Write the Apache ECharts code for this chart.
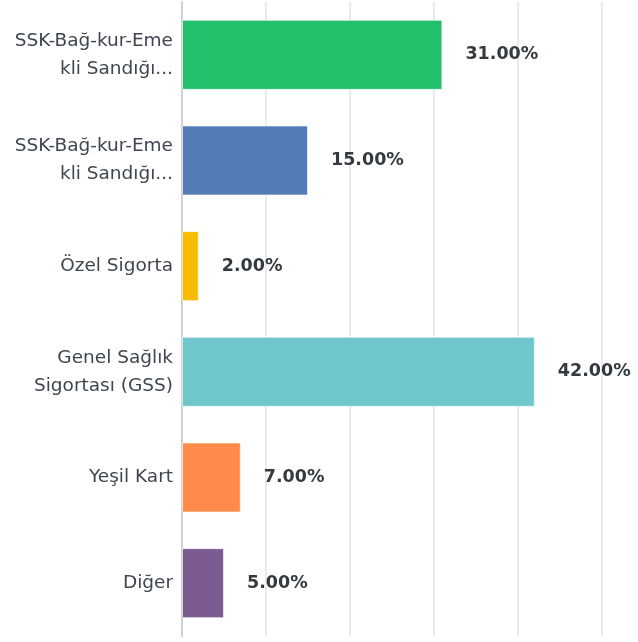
<!DOCTYPE html>
<html>
<head>
<meta charset="utf-8">
<script src="https://cdn.jsdelivr.net/npm/echarts@6/dist/echarts.min.js"></script>
<style>
  html, body { margin: 0; padding: 0; background: #fff; }
  #main { width: 638px; height: 642px; }
</style>
</head>
<body>
<div id="main"></div>
<script>
// kategoriler (yukaridan asagiya)
var categories = [
  'SSK-Bağ-kur-Eme\nkli Sandığı...',
  'SSK-Bağ-kur-Eme\nkli Sandığı...',
  'Özel Sigorta',
  'Genel Sağlık\nSigortası (GSS)',
  'Yeşil Kart',
  'Diğer'
];
var values = [31, 15, 2, 42, 7, 5];
var colors = ['#22c06a', '#527bb8', '#f7bc00', '#6fc7cc', '#ff8b4a', '#7b5b90'];
var xTicks = [0, 10, 20, 30, 40, 50];

var myChart = echarts.init(document.getElementById('main'));

var barData = [];
for (var i = 0; i < values.length; i++) {
  barData.push({
    value: values[i],
    itemStyle: { color: colors[i] }
  });
}

var option = {
  animation: false,
  grid: { left: 182, right: 36, top: 2, bottom: 6, containLabel: false },
  xAxis: {
    type: 'value',
    min: xTicks[0],
    max: xTicks[xTicks.length - 1],
    interval: 10,
    axisLabel: { show: false },
    axisLine: { show: false },
    axisTick: { show: false },
    splitLine: { lineStyle: { color: '#ebebeb', width: 2 } }
  },
  yAxis: {
    type: 'category',
    inverse: true,
    data: categories,
    axisLine: { show: true, lineStyle: { color: '#d0d0d0', width: 2 } },
    axisTick: { show: false },
    axisLabel: {
      margin: 9,
      fontFamily: 'DejaVu Sans',
      fontSize: 18.5,
      lineHeight: 28,
      color: '#3e4650',
      align: 'right'
    }
  },
  series: [{
    type: 'bar',
    data: barData,
    barWidth: 70,
    itemStyle: { borderColor: 'rgba(255,255,255,0.6)', borderWidth: 1 },
    label: {
      show: true,
      position: 'right',
      distance: 23,
      formatter: function (p) { return p.value.toFixed(2) + '%'; },
      fontFamily: 'DejaVu Sans',
      fontWeight: 'bold',
      fontSize: 17.5,
      color: '#333a40'
    }
  }]
};

myChart.setOption(option);
</script>
</body>
</html>
